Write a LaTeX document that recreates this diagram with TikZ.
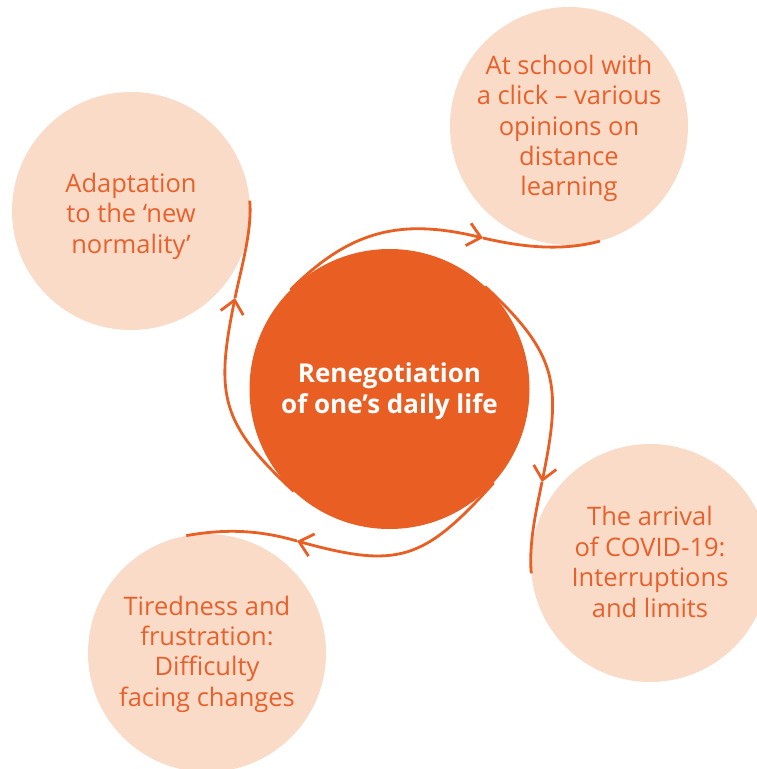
\documentclass[tikz,border=0pt]{standalone}
\usepackage{fontspec}
\setmainfont{Open Sans}
\usetikzlibrary{arrows.meta}
\definecolor{orng}{HTML}{E95E23}
\definecolor{peach}{HTML}{FADBC7}
\definecolor{txto}{HTML}{E8612C}
\begin{document}
\begin{tikzpicture}[x=1pt,y=-1pt,
  bubble/.style={circle,fill=peach,minimum size=238pt,inner sep=0pt},
  hub/.style={circle,fill=orng,minimum size=280pt,inner sep=0pt},
  btext/.style={align=center,text=txto,font=\fontsize{25.5}{30.4}\selectfont},
  htext/.style={align=center,text=white,font=\fontsize{26}{31}\selectfont\bfseries},
  link/.style={draw=orng,line width=2.8pt},
  arr/.style={link,-{Straight Barb[length=13pt,width=23pt]}}]
\path[use as bounding box] (0,0) rectangle (757,769);
\clip (0,0) rectangle (757,769);
\node[hub] (hub) at (389.5,389) {};
\node[htext] (hubt) at (389.5,391) {Renegotiation\\of one’s daily life};
\node[bubble] (tl) at (131,211) {};
\node[btext] (tlt) at (131,216) {Adaptation\\to the ‘new\\normality’};
\node[bubble] (tr) at (569,126) {};
\node[btext] (trt) at (569,128.5) {At school with\\a click – various\\opinions on\\distance\\learning};
\node[bubble] (rr) at (650,563) {};
\node[btext] (rrt) at (650,562) {The arrival\\of COVID-19:\\Interruptions\\and limits};
\node[bubble] (bl) at (207,653) {};
\node[btext] (blt) at (207,654) {Tiredness and\\frustration:\\Difficulty\\facing changes};
\coordinate (m1) at (483,238);
\coordinate (m2) at (542,482);
\coordinate (m3) at (297,541);
\coordinate (m4) at (235,298);
\draw[arr] (hub.135) .. controls +(60,-60) and +(-82,-20) .. (m1);
\draw[link] (m1) .. controls +(39,9) and +(-38.6,10.4) .. (tr.-75);
\draw[arr] (hub.47) .. controls +(73,68) and +(20,-98) .. (m2);
\draw[link] (m2) .. controls +(-6,29.4) and +(-2.6,-30) .. (rr.185);
\draw[arr] (hub.-42) .. controls +(-70,78) and +(101,28) .. (m3);
\draw[link] (m3) .. controls +(-38,-11) and +(39.4,-7) .. (bl.100);
\draw[arr] (hub.-133) .. controls +(-73,-68) and +(-20,98) .. (m4);
\draw[link] (m4) .. controls +(6,-29.4) and +(2.6,30) .. (tl.5);
\end{tikzpicture}
\end{document}
